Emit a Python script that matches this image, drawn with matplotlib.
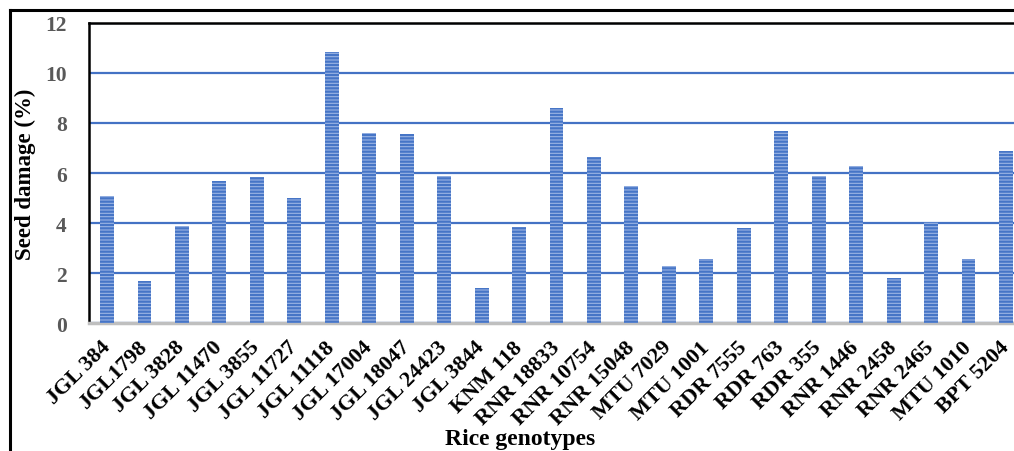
import numpy as np
import matplotlib.pyplot as plt
from matplotlib.lines import Line2D

genotypes = ["JGL 384", "JGL1798", "JGL 3828", "JGL 11470", "JGL 3855", "JGL 11727",
             "JGL 11118", "JGL 17004", "JGL 18047", "JGL 24423", "JGL 3844", "KNM 118",
             "RNR 18833", "RNR 10754", "RNR 15048", "MTU 7029", "MTU 1001", "RDR 7555",
             "RDR 763", "RDR 355", "RNR 1446", "RNR 2458", "RNR 2465", "MTU 1010", "BPT 5204"]
seed_damage = [5.1, 1.7, 3.9, 5.7, 5.85, 5.0, 10.85, 7.6, 7.55, 5.9, 1.4, 3.85,
               8.6, 6.65, 5.5, 2.3, 2.55, 3.8, 7.7, 5.9, 6.3, 1.8, 4.05, 2.55, 6.9]
y_ticks = [0, 2, 4, 6, 8, 10, 12]

plt.rcParams['font.family'] = ['Liberation Serif', 'DejaVu Serif']
plt.rcParams['hatch.linewidth'] = 1.6

fig = plt.figure(figsize=(10.14, 4.52), dpi=100)
ax = fig.add_axes([0.0878, 0.283, 0.922, 0.664])

x = np.arange(len(genotypes))
ax.bar(x, seed_damage, width=0.37, color="#9BB4E4", edgecolor="#4675C6",
       linewidth=0, hatch="-----", zorder=3)

ax.set_xlim(-0.48, len(genotypes) - 0.52)
ax.set_ylim(0, 12)
ax.set_yticks(y_ticks)
ax.set_xticks(x)
ax.set_xticklabels(genotypes, rotation=45, ha="right", va="center",
                   rotation_mode="anchor", fontsize=16, fontweight="bold")
for lab in ax.get_yticklabels():
    lab.set_fontsize(15.5)
    lab.set_fontweight("bold")
    lab.set_color("#595959")
ax.tick_params(axis="both", length=0)
ax.tick_params(axis="x", pad=15)
ax.tick_params(axis="y", pad=16)

ax.yaxis.grid(True, color="#4472C4", linewidth=1.6, zorder=0)
ax.set_axisbelow(True)

ax.spines["right"].set_visible(False)
ax.spines["top"].set_color("black")
ax.spines["top"].set_linewidth(1.8)
ax.spines["left"].set_color("black")
ax.spines["left"].set_linewidth(1.8)
ax.spines["bottom"].set_color("#BFBFBF")
ax.spines["bottom"].set_linewidth(2.5)

ax.set_ylabel("Seed damage (%)", fontsize=16.5, fontweight="bold")
ax.yaxis.set_label_coords(-0.057, 0.5)
fig.text(0.513, 0.027, "Rice genotypes", ha="center", va="center",
         fontsize=17, fontweight="bold")

# outer frame
fig.add_artist(Line2D([0.0099, 0.0099], [0, 0.9757], color="black", linewidth=2.2))
fig.add_artist(Line2D([0.0099, 1.0], [0.9757, 0.9757], color="black", linewidth=2.2))

fig.savefig("out.png", dpi=100)
